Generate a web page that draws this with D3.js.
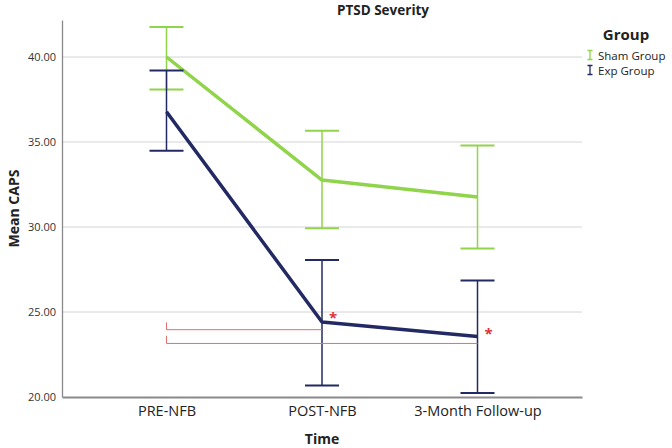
<!DOCTYPE html>
<html>
<head>
<meta charset="utf-8">
<script src="https://cdn.jsdelivr.net/npm/d3@7"></script>
<style>
	body { margin: 0; background: #fff; }
	text { font-family: 'Open Sans', 'DejaVu Sans', sans-serif; fill: #222; }
</style>
</head>
<body>
<script>
var timepoints = ['PRE-NFB', 'POST-NFB', '3-Month Follow-up']
var groups = ['Sham Group', 'Exp Group']
var groupColors = ['#8fd44a', '#232a63']

var shamMean = [40.0, 32.76, 31.76]
var shamLow = [38.09, 29.92, 28.74]
var shamHigh = [41.76, 35.66, 34.8]

var expMean = [36.78, 24.41, 23.56]
var expLow = [34.49, 20.68, 20.24]
var expHigh = [39.21, 28.06, 26.86]

var yTicks = [20, 25, 30, 35, 40]

// significance brackets: from PRE-NFB to a later timepoint
var bracketTo = ['POST-NFB', '3-Month Follow-up']
var bracketLevel = [23.96, 23.15]
var bracketTick = [0.43, 0.45]
var starLevel = [24.85, 23.9]

var width = 672, height = 448
var plotLeft = 62, plotRight = 582, plotTop = 20, plotBottom = 397

var svg = d3.select('body').append('svg')
	.attr('width', width)
	.attr('height', height)

var x = d3.scalePoint().domain(timepoints).range([plotLeft, plotRight]).padding(0.672)
var y = d3.scaleLinear().domain([20, 20 + (plotBottom - plotTop) / 17]).range([plotBottom, plotTop])

// gridlines
svg.selectAll('.grid').data(yTicks.filter(function(d){ return d > 20 })).enter().append('line')
	.attr('x1', plotLeft).attr('x2', plotRight)
	.attr('y1', function(d){ return y(d) }).attr('y2', function(d){ return y(d) })
	.style('stroke', '#d4d4d4').style('stroke-width', 1)

// axes
var yAxis = svg.append('g')
	.attr('transform', 'translate(' + plotLeft + ',0)')
	.call(d3.axisLeft(y).tickValues(yTicks).tickFormat(d3.format('.2f')).tickSize(0).tickPadding(6))
yAxis.select('.domain').style('stroke', '#8a8a8a').style('stroke-width', 1.3)
yAxis.selectAll('text').style('font-size', '11px').style('fill', '#333')

var xAxis = svg.append('g')
	.attr('transform', 'translate(0,' + plotBottom + ')')
	.call(d3.axisBottom(x).tickSize(0).tickPadding(9))
xAxis.select('.domain').style('stroke', '#8a8a8a').style('stroke-width', 2)
xAxis.selectAll('text').style('font-size', '14.5px').style('fill', '#222')

var series = [
	{ name: groups[0], color: groupColors[0], mean: shamMean, low: shamLow, high: shamHigh },
	{ name: groups[1], color: groupColors[1], mean: expMean, low: expLow, high: expHigh }
]

var line = d3.line()
	.x(function(d){ return x(d.t) })
	.y(function(d){ return y(d.v) })

series.forEach(function(s){
	var pts = timepoints.map(function(t, i){ return { t: t, v: s.mean[i], lo: s.low[i], hi: s.high[i] } })
	var g = svg.append('g')

	g.selectAll('.whisker').data(pts).enter().append('line')
		.attr('x1', function(d){ return x(d.t) }).attr('x2', function(d){ return x(d.t) })
		.attr('y1', function(d){ return y(d.lo) }).attr('y2', function(d){ return y(d.hi) })
		.style('stroke', s.color).style('stroke-width', 1.5)

	;['lo', 'hi'].forEach(function(k){
		g.selectAll('.cap-' + k).data(pts).enter().append('line')
			.attr('x1', function(d){ return x(d.t) - 17 }).attr('x2', function(d){ return x(d.t) + 17 })
			.attr('y1', function(d){ return y(d[k]) }).attr('y2', function(d){ return y(d[k]) })
			.style('stroke', s.color).style('stroke-width', 2)
	})

	g.append('path').datum(pts)
		.attr('d', line)
		.style('fill', 'none').style('stroke', s.color).style('stroke-width', 3.5)
		.style('stroke-linejoin', 'round')
})

// significance brackets
bracketTo.forEach(function(t, i){
	var x0 = x(timepoints[0]), x1 = x(t), yl = y(bracketLevel[i])
	svg.append('path')
		.attr('d', 'M' + x0 + ',' + y(bracketLevel[i] + bracketTick[i]) + 'V' + yl + 'H' + x1)
		.style('fill', 'none').style('stroke', '#e07070').style('stroke-width', 1)
	svg.append('text')
		.attr('x', x1 + 11).attr('y', y(starLevel[i]) + 8)
		.attr('text-anchor', 'middle')
		.style('font-size', '15px').style('font-weight', 'bold').style('fill', '#e0303a')
		.text('*')
})

// titles
svg.append('text')
	.attr('x', 383).attr('y', 14.5)
	.attr('text-anchor', 'middle')
	.style('font-size', '13.5px').style('font-weight', 'bold')
	.text('PTSD Severity')

svg.append('text')
	.attr('x', (plotLeft + plotRight) / 2).attr('y', 444)
	.attr('text-anchor', 'middle')
	.style('font-size', '14px').style('font-weight', 'bold')
	.text('Time')

svg.append('text')
	.attr('transform', 'translate(19,' + (plotTop + plotBottom) / 2 + ') rotate(-90)')
	.attr('text-anchor', 'middle')
	.style('font-size', '14px').style('font-weight', 'bold')
	.text('Mean CAPS')

// legend
svg.append('text')
	.attr('x', 626).attr('y', 40)
	.attr('text-anchor', 'middle')
	.style('font-size', '15px').style('font-weight', 'bold')
	.text('Group')

var legend = svg.selectAll('.legend').data(series).enter().append('g')
	.attr('transform', function(d, i){ return 'translate(590,' + (55.5 + i * 15) + ')' })
legend.append('path')
	.attr('d', 'M-2.5,-5H2.5M0,-5V4M-2.5,4H2.5')
	.style('fill', 'none')
	.style('stroke', function(d){ return d.color }).style('stroke-width', 1.3)
legend.append('text')
	.attr('x', 8).attr('y', 4)
	.style('font-size', '11.5px')
	.text(function(d){ return d.name })
</script>
</body>
</html>
